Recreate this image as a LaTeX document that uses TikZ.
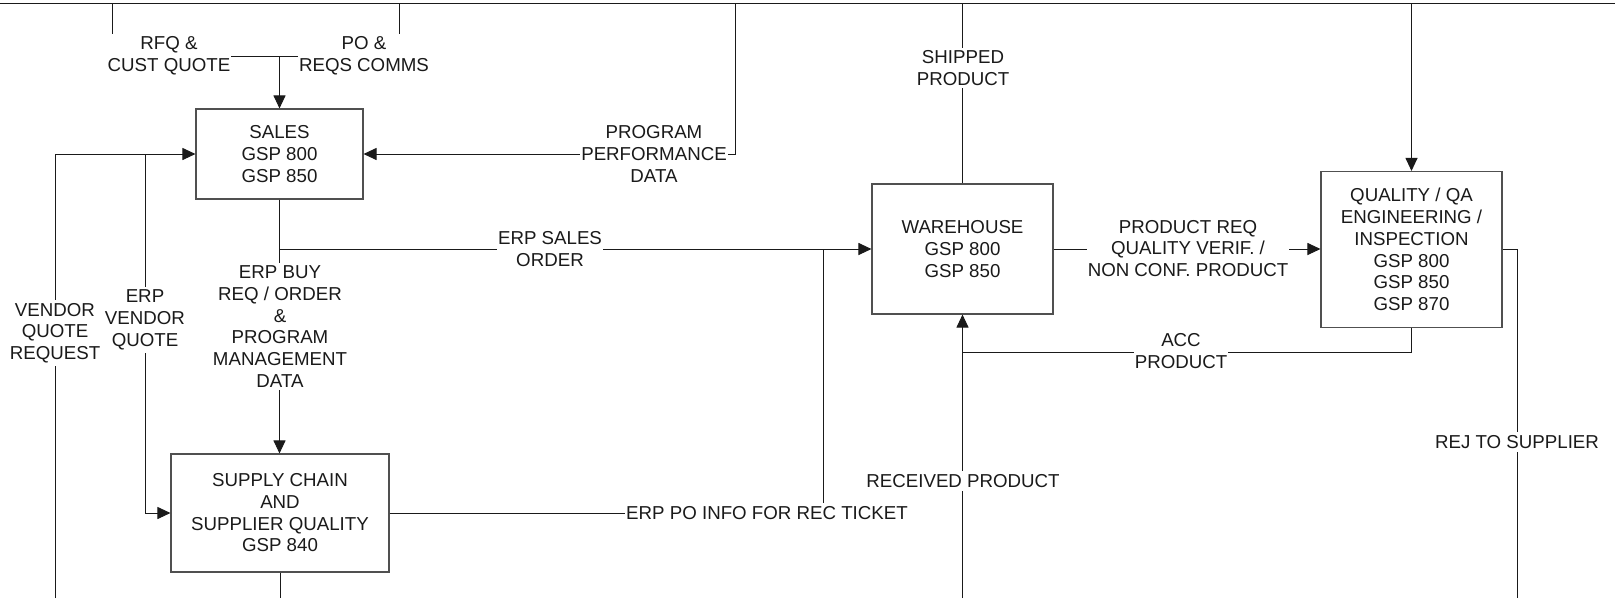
\documentclass[tikz,border=0pt]{standalone}
\usepackage{fontspec}
\setmainfont{Liberation Sans}
\usetikzlibrary{arrows.meta}
\definecolor{linec}{HTML}{1A1A1A}
\definecolor{boxc}{HTML}{505050}
\tikzset{
  txt/.style={font=\fontsize{18.7}{21.7}\selectfont, text=linec, align=center},
  box/.style={txt, draw=boxc, line width=1.1pt, inner sep=0pt},
  lbl/.style={txt, fill=white, inner xsep=1pt, inner ysep=3pt},
  conn/.style={draw=linec, line width=1pt},
  arr/.style={conn, -{Triangle[length=13pt,width=12pt]}}
}
\begin{document}
\begin{tikzpicture}[x=1pt,y=-1pt]
\useasboundingbox (0,0) rectangle (1615,598);
% boxes
\node[box, minimum width=167pt, minimum height=90pt] (sales) at (279.5,154) {SALES\\GSP 800\\GSP 850};
\node[box, minimum width=218pt, minimum height=118pt] (supply) at (280,513) {SUPPLY CHAIN\\AND\\SUPPLIER QUALITY\\GSP 840};
\node[box, minimum width=181pt, minimum height=130pt] (wh) at (962.5,249) {WAREHOUSE\\GSP 800\\GSP 850};
\node[box, minimum width=181pt, minimum height=156pt] (qa) at (1411.5,249.5) {QUALITY / QA\\ENGINEERING /\\INSPECTION\\GSP 800\\GSP 850\\GSP 870};
% coordinates
\coordinate (tl) at (0,3);
\coordinate (tr) at (1615,3);
\coordinate (bot) at (0,598);
\coordinate (rfqtop) at (112,3);
\coordinate (rfqc) at (112,56);
\coordinate (join) at (279.5,56);
\coordinate (potop) at (399,3);
\coordinate (poc) at (399,56);
\coordinate (pptop) at (735,3);
\coordinate (ppc) at (735,154);
\coordinate (vqbot) at (55,598);
\coordinate (vqc) at (55,154);
\coordinate (evq) at (145,154);
\coordinate (evqc) at (145,513);
\coordinate (so) at (279.5,249);
\coordinate (poc2) at (823,513);
\coordinate (poj) at (823,249);
\coordinate (accc) at (1411.5,352);
\coordinate (accj) at (962.5,352);
\coordinate (rejc) at (1517,249);
\coordinate (rejb) at (1517,598);
% connectors
\draw[conn] (tl) -- (tr);
\draw[conn] (rfqtop) -- (rfqc) -- (join);
\draw[conn] (potop) -- (poc) -- (join);
\draw[arr] (join) -- (sales.north);
\draw[arr] (pptop) -- (ppc) -- (sales.east);
\draw[conn] (wh.north |- tl) -- (wh.north);
\draw[arr] (qa.north |- tl) -- (qa.north);
\draw[arr] (vqbot) -- (vqc) -- (sales.west);
\draw[arr] (evq) -- (evqc) -- (supply.west);
\draw[arr] (sales.south) -- (so) -- (wh.west);
\draw[arr] (sales.south) -- (sales.south |- supply.north);
\draw[conn] (supply.east) -- (poc2) -- (poj);
\draw[arr] (wh.south |- bot) -- (wh.south);
\draw[conn] (qa.south) -- (accc) -- (accj);
\draw[arr] (wh.east) -- (qa.west |- wh.east);
\draw[conn] (qa.east |- rejc) -- (rejc) -- (rejb);
\draw[conn] (supply.south) -- (supply.south |- bot);
% labels
\node[lbl] (lrfq) at (169,56) {RFQ \&\\CUST QUOTE};
\node[lbl] (lpo) at (364,56) {PO \&\\REQS COMMS};
\node[lbl] (lpp) at (654,154) {PROGRAM\\PERFORMANCE\\DATA};
\node[lbl] (lsh) at (963,68) {SHIPPED\\PRODUCT};
\node[lbl] (lvq) at (55,333) {VENDOR\\QUOTE\\REQUEST};
\node[lbl] (levq) at (145,320) {ERP\\VENDOR\\QUOTE};
\node[lbl] (lso) at (550,249) {ERP SALES\\ORDER};
\node[lbl] (lbuy) at (280,326.5) {ERP BUY\\REQ / ORDER\\\&\\PROGRAM\\MANAGEMENT\\DATA};
\node[lbl] (lpoi) at (767,513) {ERP PO INFO FOR REC TICKET};
\node[lbl] (lrp) at (963,481) {RECEIVED PRODUCT};
\node[lbl] (lacc) at (1181,351) {ACC\\PRODUCT};
\node[lbl] (lpr) at (1188,248.5) {PRODUCT REQ\\QUALITY VERIF. /\\NON CONF. PRODUCT};
\node[lbl] (lrej) at (1517,442) {REJ TO SUPPLIER};
\end{tikzpicture}
\end{document}
